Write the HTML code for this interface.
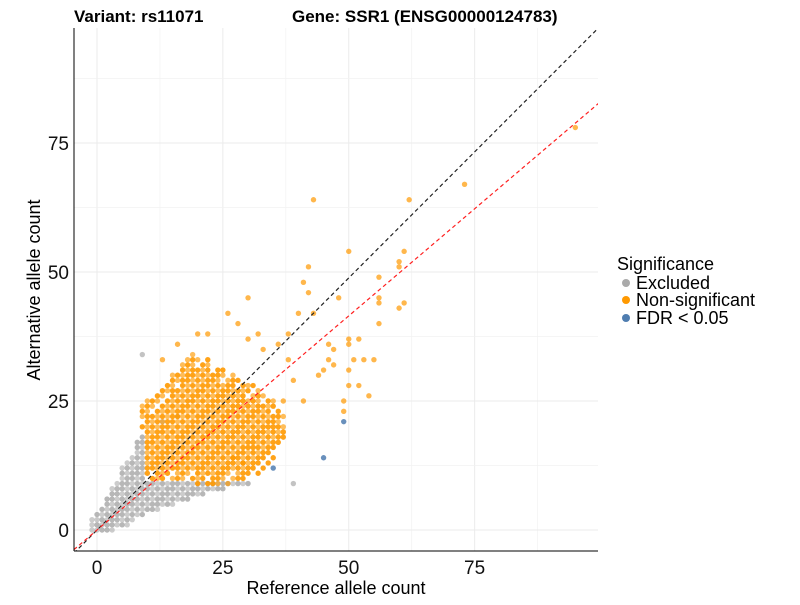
<!DOCTYPE html>
<html><head><meta charset="utf-8"><style>
body{margin:0;background:#fff;}
svg text{font-family:"Liberation Sans",Arial,sans-serif;}
</style></head><body>
<svg id="chart" width="800" height="600" xmlns="http://www.w3.org/2000/svg">
<rect width="800" height="600" fill="#fff"/>
<g id="grid"></g>
<g id="pts"></g>
<g id="lines"></g>
<g id="axes"></g>
<text x="74" y="22" font-size="17" font-weight="bold">Variant: rs11071</text>
<text x="292" y="22" font-size="17" font-weight="bold">Gene: SSR1 (ENSG00000124783)</text>
<text x="336" y="594" font-size="18" text-anchor="middle">Reference allele count</text>
<text transform="translate(40,290) rotate(-90)" font-size="18" text-anchor="middle">Alternative allele count</text>
<g>
<text x="617" y="270" font-size="18">Significance</text>
<g><circle cx="626" cy="283" r="4" fill="#aaaaaa"/><text x="636" y="289" font-size="18">Excluded</text></g>
<g><circle cx="626" cy="300" r="4" fill="#ff9900"/><text x="636" y="306" font-size="18">Non-significant</text></g>
<g><circle cx="626" cy="318" r="4" fill="#4f7db0"/><text x="636" y="324" font-size="18">FDR &lt; 0.05</text></g>
</g>
</svg>
<script>
// data
const xTicks=[0,25,50,75];
const yTicks=[0,25,50,75];
const greyCols=[-1,0,1,2,3,4,5,6,7,8,9,10,11,12,13,14,15,16,17,18,19,20,21,22,23,24,25,26,27,28,29,30];
const greyLo  =[0,0,0,0,0,1,1,1,2,3,3,4,4,4,5,5,5,6,6,6,7,7,7,8,8,8,8,9,9,9,9,9];
const greyHi  =[2,3,4,6,8,9,12,13,14,17,18,19,18,9,9,9,9,9,9,9,9,9,9,9,9,9,9,9,9,9,9,9];
const orangeCols=[9,10,11,12,13,14,15,16,17,18,19,20,21,22,23,24,25,26,27,28,29,30,31,32,33,34,35,36,37];
const orangeLo  =[20,10,10,10,10,10,10,10,10,10,10,9,9,9,9,9,9,9,10,10,10,10,11,11,12,13,14,16,17];
const orangeHi  =[25,25,25,26,27,28,31,30,33,34,35,33,33,34,31,31,31,30,30,29,29,28,28,27,26,25,25,23,22];
const orangeOutX=[95,73,43,62,50,61,60,60,42,56,41,42,48,56,56,61,60,43,56,46,50,52,50,51,53,55,54,49,49,50,50,52,47,47,16,13,20,22,30,26,28,30,32,33,36,38,40,38,44,46,45,29,31,27,35,39,37,41];
const orangeOutY=[78,67,64,64,54,54,52,51,51,49,48,46,45,45,44,44,43,42,40,36,37,37,36,33,33,33,26,25,23,31,28,28,35,32,36,33,38,38,45,42,40,37,38,35,36,38,42,33,30,33,31,13,16,14,20,29,25,25];
const greyOutX=[9,39,13,16];
const greyOutY=[34,9,21,22];
const blueX=[35,45,49];
const blueY=[12,14,21];
const identitySlope=0.977;
const refSlope=0.83;

const X0=97,PXX=5.035,Y0=530,PXY=5.16;
const sx=v=>X0+v*PXX, sy=v=>Y0-v*PXY;
const L=74,R=598,T=28,B=551;
const NS='http://www.w3.org/2000/svg';
function mk(tag,attrs,parent){const e=document.createElementNS(NS,tag);for(const k in attrs)e.setAttribute(k,attrs[k]);parent.appendChild(e);return e;}
const grid=document.getElementById('grid'),pts=document.getElementById('pts'),lines=document.getElementById('lines'),axes=document.getElementById('axes');
for(let i=0;i<xTicks.length;i++){
  const t=xTicks[i];
  const g1=mk('line',{x1:sx(t),x2:sx(t),y1:T,y2:B,stroke:'#ebebeb','stroke-width':1},grid);
  
  
  const g2=mk('line',{x1:sx(t+12.5),x2:sx(t+12.5),y1:T,y2:B,stroke:'#f2f2f2','stroke-width':0.7},grid);
  
  
  const tk=mk('text',{x:sx(t),y:B+23,'font-size':19,'text-anchor':'middle',fill:'#111'},axes);tk.textContent=t;
  
  
}
for(let i=0;i<yTicks.length;i++){
  const t=yTicks[i];
  const g1=mk('line',{x1:L,x2:R,y1:sy(t),y2:sy(t),stroke:'#ebebeb','stroke-width':1},grid);
  
  
  const g2=mk('line',{x1:L,x2:R,y1:sy(t+12.5),y2:sy(t+12.5),stroke:'#f2f2f2','stroke-width':0.7},grid);
  
  
  const tk=mk('text',{x:L-5,y:sy(t)+7,'font-size':19,'text-anchor':'end',fill:'#111'},axes);tk.textContent=t;
  
  
}
function dot(x,y,fill,name,op){
  const c=mk('circle',{cx:sx(x),cy:sy(y),r:2.7,fill:fill,'fill-opacity':op},pts);
  
  
}
for(let i=0;i<greyCols.length;i++)for(let y=greyLo[i];y<=greyHi[i];y++){
  if(greyCols[i]>=10&&y>=10)continue;
  dot(greyCols[i],y,'#aaaaaa','point-excluded',((greyCols[i]*7+y*3)%5<2)?0.6:0.85);
}
for(let i=0;i<greyOutX.length;i++)dot(greyOutX[i],greyOutY[i],'#aaaaaa','point-excluded',0.7);
for(let i=0;i<orangeCols.length;i++)for(let y=orangeLo[i];y<=orangeHi[i];y++){
  const edge=(y-orangeLo[i]<2||orangeHi[i]-y<3);
  if(edge&&((orangeCols[i]*5+y*3)%4===0))continue;
  dot(orangeCols[i],y,'#ff9900','point-non-significant',((orangeCols[i]*3+y*7)%5<2)?0.65:0.9);
}
for(let i=0;i<orangeOutX.length;i++)dot(orangeOutX[i],orangeOutY[i],'#ff9900','point-non-significant',0.7);
for(let i=0;i<blueX.length;i++)dot(blueX[i],blueY[i],'#4f7db0','point-fdr-significant',0.85);
const lx0=-4.6,lx1=99.6;
const bl=mk('line',{x1:sx(lx0),y1:sy(lx0*identitySlope),x2:sx(lx1),y2:sy(lx1*identitySlope),stroke:'#222','stroke-width':1.2,'stroke-dasharray':'4,3'},lines);


const rl=mk('line',{x1:sx(lx0),y1:sy(lx0*refSlope),x2:sx(lx1),y2:sy(lx1*refSlope),stroke:'#ff2020','stroke-width':1.2,'stroke-dasharray':'4,3'},lines);


const cp=mk('clipPath',{id:'cp'},document.getElementById('chart'));mk('rect',{x:L,y:T,width:R-L,height:B-T},cp);
lines.setAttribute('clip-path','url(#cp)');
const ax1=mk('line',{x1:L,x2:L,y1:T,y2:B,stroke:'#000','stroke-width':1},axes);


const ax2=mk('line',{x1:L,x2:R,y1:B,y2:B,stroke:'#000','stroke-width':1},axes);


</script>
</body></html>
